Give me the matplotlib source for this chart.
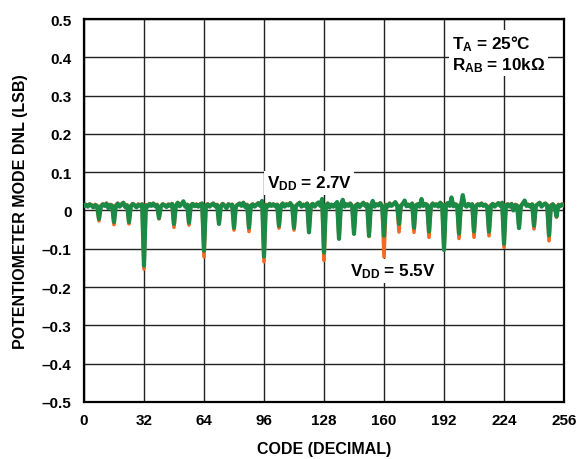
import matplotlib
matplotlib.use("Agg")
import matplotlib.pyplot as plt
import numpy as np

plt.rcParams['font.family'] = ['Liberation Sans', 'DejaVu Sans']
plt.rcParams['font.weight'] = 'bold'
plt.rcParams['mathtext.fontset'] = 'custom'
plt.rcParams['mathtext.rm'] = 'Liberation Sans:bold'
plt.rcParams['mathtext.it'] = 'Liberation Sans:bold'
plt.rcParams['mathtext.bf'] = 'Liberation Sans:bold'

# DNL readings, one line = 8 codes (code 8k .. 8k+7), last value is code 256
dnl_27v = [
    0.012, 0.015, 0.010, 0.016, 0.013, 0.008, 0.014, 0.011,
    -0.022, 0.010, 0.016, 0.012, 0.018, 0.006, 0.014, 0.012,
    -0.030, 0.012, 0.018, 0.010, 0.015, 0.020, 0.009, 0.013,
    -0.030, 0.011, 0.017, 0.013, 0.008, 0.015, 0.012, 0.016,
    -0.144, 0.013, 0.010, 0.017, 0.012, 0.018, 0.011, 0.014,
    -0.020, 0.010, 0.016, 0.013, 0.009, 0.015, 0.012, 0.017,
    -0.035, 0.012, 0.020, 0.011, 0.016, 0.024, 0.010, 0.015,
    -0.032, 0.013, 0.017, 0.011, 0.015, 0.010, 0.016, 0.018,
    -0.105, 0.012, 0.016, 0.010, 0.015, 0.018, 0.011, 0.014,
    -0.035, 0.011, 0.017, 0.012, 0.006, 0.016, 0.013, 0.015,
    -0.045, 0.010, 0.015, 0.018, 0.012, 0.020, 0.009, 0.014,
    -0.045, 0.012, 0.016, 0.010, 0.015, 0.019, 0.012, 0.025,
    -0.120, 0.014, 0.010, 0.017, 0.012, 0.016, 0.011, 0.015,
    -0.040, 0.012, 0.018, 0.010, 0.016, 0.013, 0.019, 0.012,
    -0.045, 0.011, 0.016, 0.020, 0.010, 0.015, 0.012, 0.018,
    -0.057, 0.013, 0.017, 0.010, 0.016, 0.021, 0.012, 0.030,
    -0.110, 0.012, 0.018, 0.008, 0.015, 0.010, 0.016, 0.022,
    -0.074, 0.014, 0.028, 0.010, 0.016, 0.012, 0.018, 0.011,
    -0.061, 0.013, 0.017, 0.009, 0.015, 0.020, 0.012, 0.016,
    -0.066, 0.012, 0.025, 0.010, 0.016, 0.013, 0.019, 0.011,
    -0.066, 0.014, 0.010, 0.018, 0.012, 0.016, 0.022, 0.013,
    -0.035, 0.012, 0.017, 0.026, 0.011, 0.015, 0.010, 0.018,
    -0.045, 0.013, 0.016, 0.010, 0.030, 0.012, 0.017, 0.014,
    -0.055, 0.011, 0.018, 0.012, 0.016, 0.010, 0.020, 0.015,
    -0.103, 0.014, 0.019, 0.012, 0.034, 0.011, 0.016, 0.013,
    -0.060, 0.012, 0.040, 0.014, 0.010, 0.017, 0.012, 0.016,
    -0.055, 0.011, 0.016, 0.013, 0.018, 0.012, 0.015, 0.010,
    -0.055, 0.012, 0.017, 0.010, 0.015, 0.019, 0.012, 0.020,
    -0.087, 0.013, 0.016, 0.010, 0.017, 0.000, 0.014, 0.012,
    -0.046, 0.011, 0.018, 0.026, 0.012, 0.015, 0.010, 0.016,
    -0.040, 0.012, 0.016, 0.020, 0.010, 0.015, 0.018, 0.013,
    -0.065, 0.012, 0.016, 0.010, -0.015, 0.014, 0.011, 0.016,
    0.013,
]

dnl_55v = [
    0.014, 0.016, 0.012, 0.017, 0.015, 0.010, 0.016, 0.013,
    -0.027, 0.012, 0.017, 0.014, 0.019, 0.008, 0.016, 0.014,
    -0.037, 0.014, 0.019, 0.012, 0.017, 0.021, 0.011, 0.015,
    -0.035, 0.013, 0.018, 0.015, 0.010, 0.017, 0.014, 0.017,
    -0.153, 0.015, 0.012, 0.018, 0.014, 0.019, 0.013, 0.016,
    -0.022, 0.012, 0.017, 0.015, 0.011, 0.017, 0.014, 0.018,
    -0.044, 0.014, 0.021, 0.013, 0.017, 0.022, 0.012, 0.016,
    -0.038, 0.015, 0.018, 0.013, 0.017, 0.012, 0.017, 0.019,
    -0.121, 0.014, 0.017, 0.012, 0.016, 0.019, 0.013, 0.016,
    -0.035, 0.013, 0.018, 0.014, 0.008, 0.017, 0.015, 0.016,
    -0.051, 0.012, 0.016, 0.019, 0.014, 0.021, 0.011, 0.016,
    -0.055, 0.014, 0.017, 0.012, 0.016, 0.020, 0.014, 0.023,
    -0.134, 0.016, 0.012, 0.018, 0.014, 0.017, 0.013, 0.016,
    -0.046, 0.014, 0.019, 0.012, 0.017, 0.015, 0.020, 0.014,
    -0.051, 0.013, 0.017, 0.021, 0.012, 0.016, 0.014, 0.019,
    -0.057, 0.015, 0.018, 0.012, 0.017, 0.020, 0.014, 0.026,
    -0.130, 0.014, 0.019, 0.010, 0.016, 0.012, 0.017, 0.021,
    -0.074, 0.016, 0.025, 0.012, 0.017, 0.014, 0.019, 0.013,
    -0.061, 0.015, 0.018, 0.011, 0.016, 0.021, 0.014, 0.017,
    -0.068, 0.014, 0.023, 0.012, 0.017, 0.015, 0.020, 0.013,
    -0.121, 0.016, 0.012, 0.019, 0.014, 0.017, 0.021, 0.015,
    -0.056, 0.014, 0.018, 0.024, 0.013, 0.016, 0.012, 0.019,
    -0.057, 0.015, 0.017, 0.012, 0.027, 0.014, 0.018, 0.016,
    -0.070, 0.013, 0.019, 0.014, 0.017, 0.012, 0.021, 0.016,
    -0.103, 0.016, 0.020, 0.014, 0.030, 0.013, 0.017, 0.015,
    -0.073, 0.014, 0.035, 0.016, 0.012, 0.018, 0.014, 0.017,
    -0.070, 0.013, 0.017, 0.015, 0.019, 0.014, 0.016, 0.012,
    -0.066, 0.014, 0.018, 0.012, 0.016, 0.020, 0.014, 0.021,
    -0.096, 0.015, 0.017, 0.012, 0.018, 0.002, 0.016, 0.014,
    -0.046, 0.013, 0.019, 0.024, 0.014, 0.016, 0.012, 0.017,
    -0.048, 0.014, 0.017, 0.021, 0.012, 0.016, 0.019, 0.015,
    -0.079, 0.014, 0.017, 0.012, -0.018, 0.016, 0.013, 0.017,
    0.015,
]

codes = np.arange(len(dnl_27v))
x_ticks = [0, 32, 64, 96, 128, 160, 192, 224, 256]
y_ticks = [0.5, 0.4, 0.3, 0.2, 0.1, 0, -0.1, -0.2, -0.3, -0.4, -0.5]
y_tick_labels = ['0.5', '0.4', '0.3', '0.2', '0.1', '0',
                 '\u20130.1', '\u20130.2', '\u20130.3', '\u20130.4', '\u20130.5']

fig = plt.figure(figsize=(5.86, 4.60), dpi=100)
ax = fig.add_axes([0.1433, 0.124, 0.8192, 0.8325])

ax.plot(codes, dnl_55v, color='#f26a21', lw=2.6, zorder=3)
ax.plot(codes, dnl_27v, color='#1b8a47', lw=3.0, zorder=4)

ax.set_xlim(0, 256)
ax.set_ylim(-0.5, 0.5)
ax.set_xticks(x_ticks)
ax.set_xticklabels([str(t) for t in x_ticks])
ax.set_yticks(y_ticks)
ax.set_yticklabels(y_tick_labels)
ax.tick_params(length=0, labelsize=11)
ax.tick_params(axis='x', pad=8)
ax.tick_params(axis='y', pad=9)
for lab in ax.get_xticklabels() + ax.get_yticklabels():
    lab.set_fontweight('bold')

ax.grid(True, color='#222222', lw=1.0, zorder=1)
ax.set_axisbelow(True)
for sp in ax.spines.values():
    sp.set_linewidth(1.6)
    sp.set_color('black')

ax.set_xlabel('CODE (DECIMAL)', fontsize=11.5, fontweight='bold', labelpad=10)
ax.set_ylabel('POTENTIOMETER MODE DNL (LSB)', fontsize=11.5, fontweight='bold', labelpad=10)

box = dict(facecolor='white', edgecolor='none', pad=2)
ax.text(120, 0.072, r'$V_{DD}$ = 2.7V', fontsize=12.3, fontweight='bold',
        ha='center', va='center', bbox=box, zorder=5)
ax.text(165, -0.158, r'$V_{DD}$ = 5.5V', fontsize=12.3, fontweight='bold',
        ha='center', va='center', bbox=box, zorder=5)
ax.text(196, 0.41, r'$T_A$ = 25°C' + '\n' + r'$R_{AB}$ = 10kΩ', fontsize=12.3,
        fontweight='bold', ha='left', va='center', linespacing=1.15,
        bbox=box, zorder=5)

fig.savefig('out.png', dpi=100)
